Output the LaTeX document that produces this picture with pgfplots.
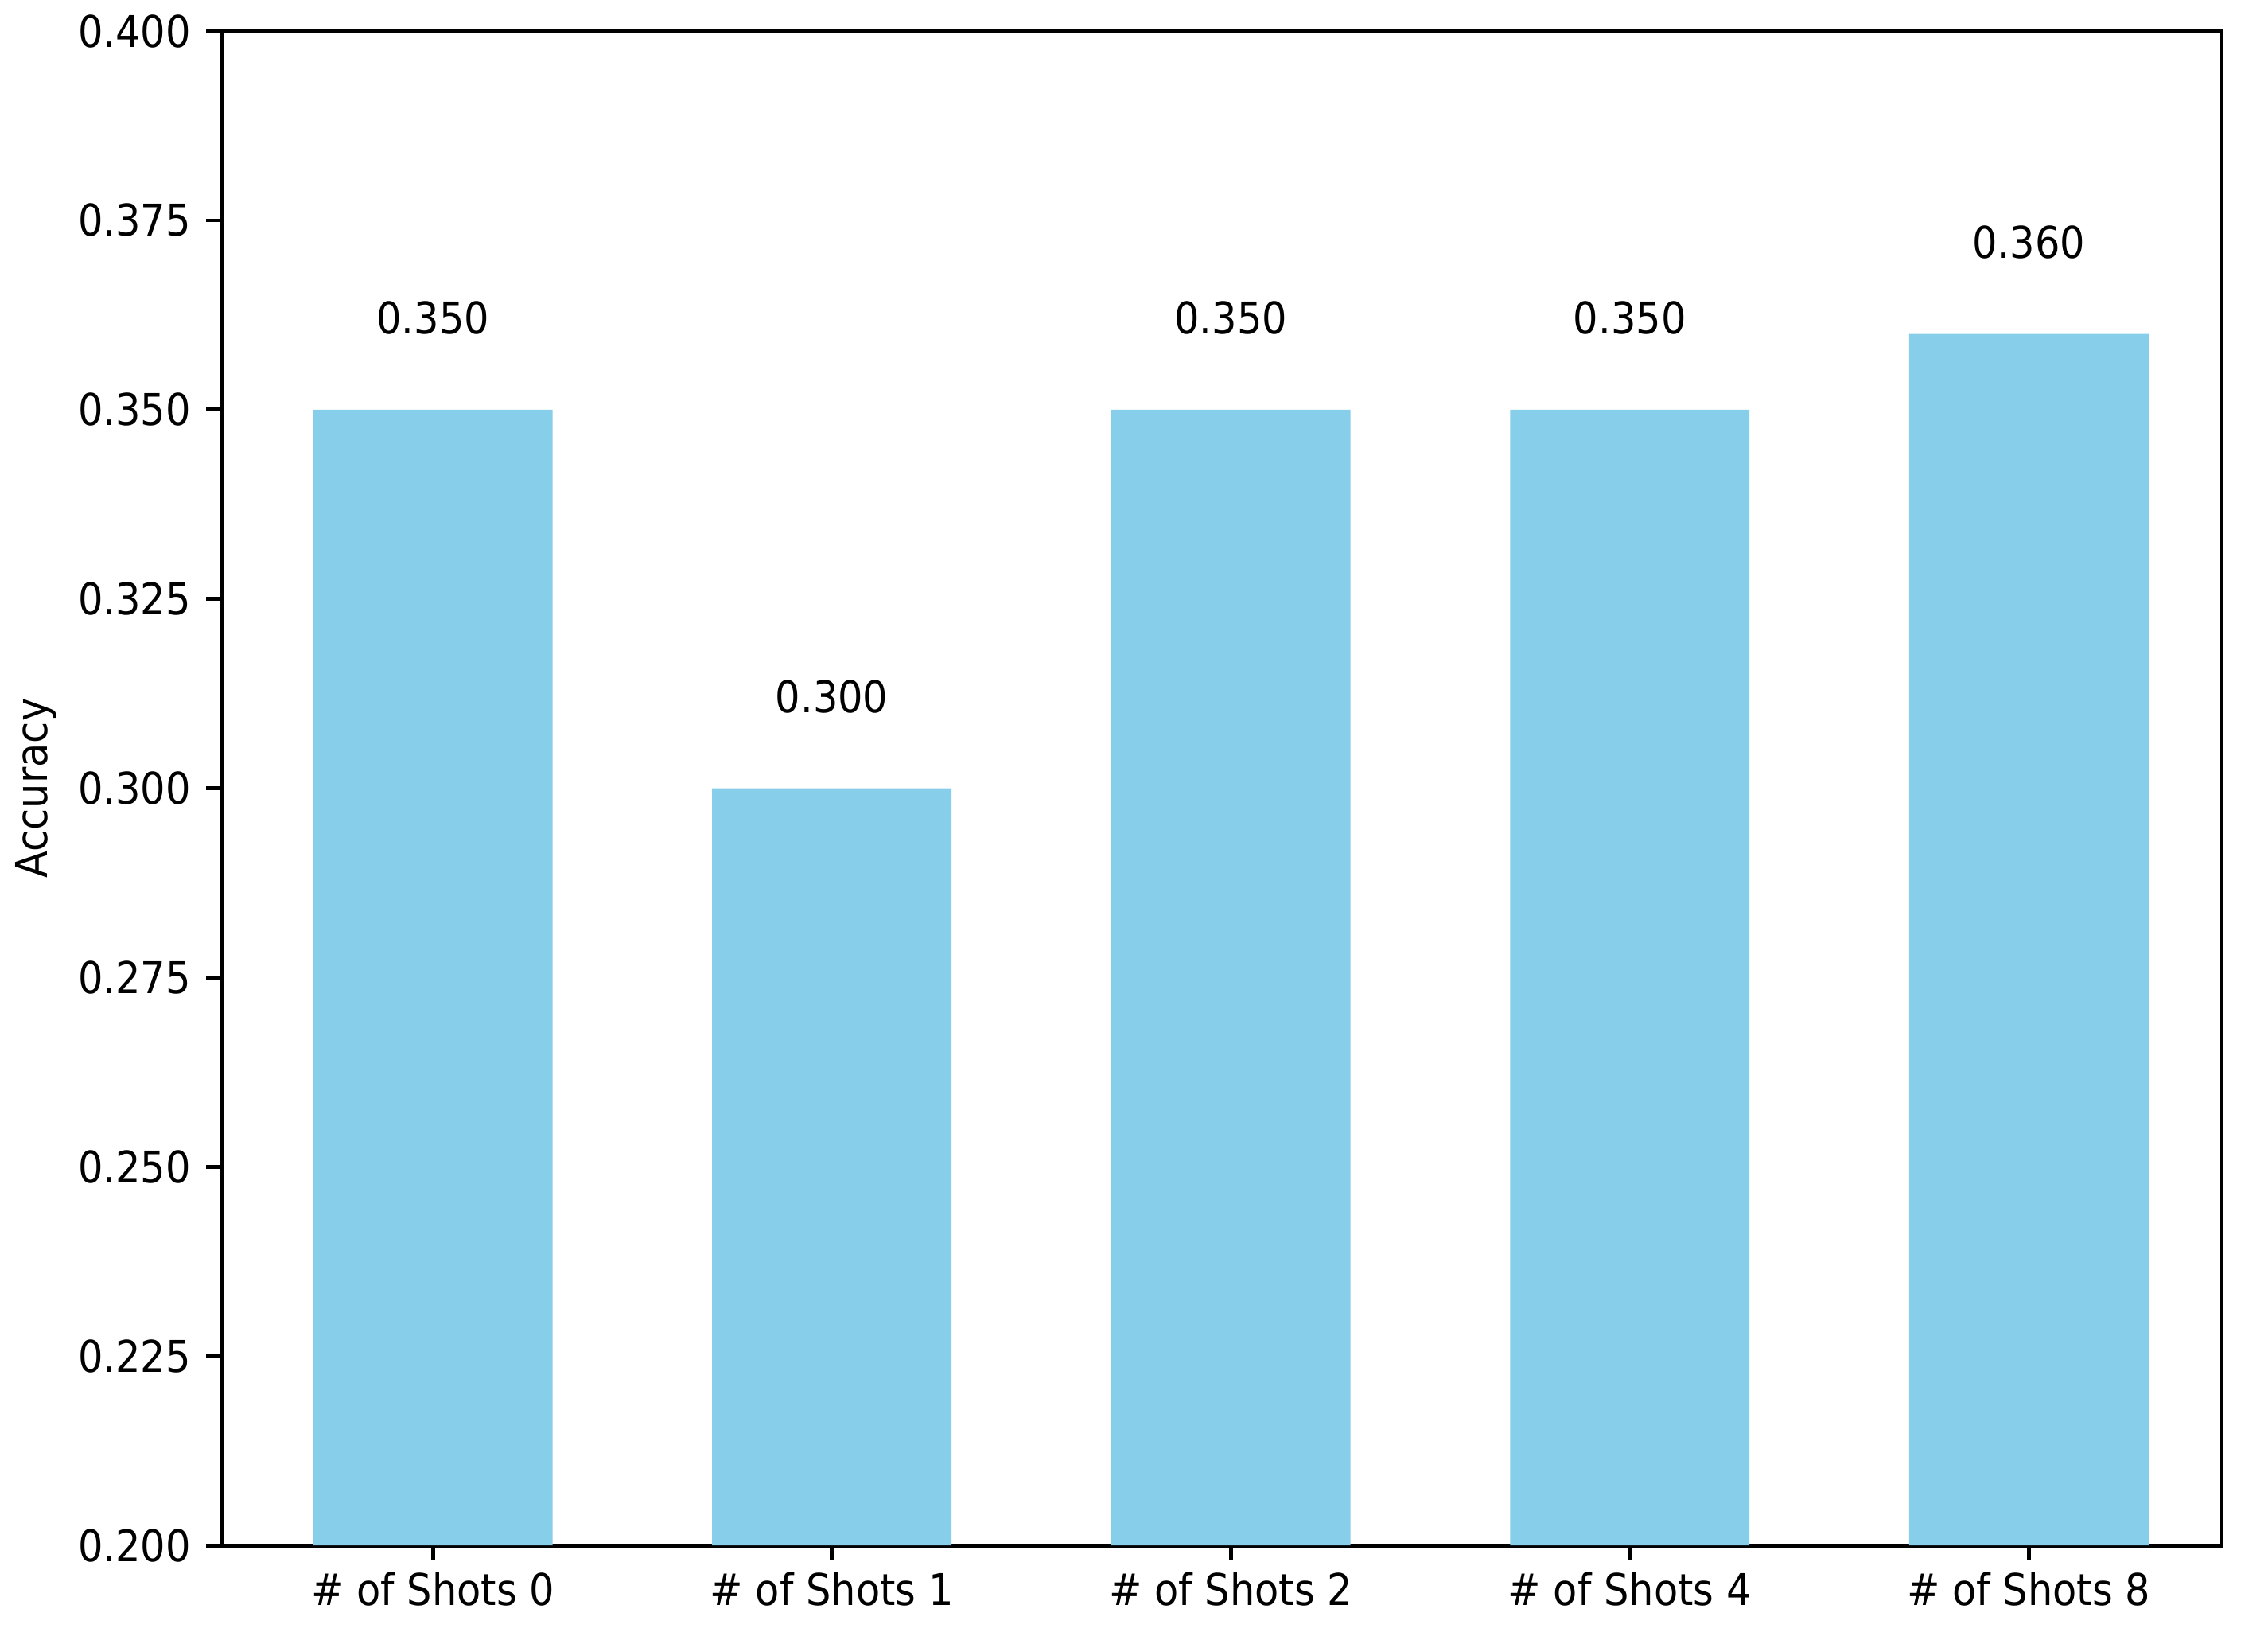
\documentclass[border=0pt]{standalone}
\usepackage{fontspec}
\setmainfont{DejaVu Sans}[FakeStretch=0.9]
\usepackage{pgfplots}
\pgfplotsset{compat=1.18}
\definecolor{skyblue}{RGB}{135,206,235}

\begin{document}
\begin{tikzpicture}
\fontsize{9.2pt}{11pt}\selectfont
\begin{axis}[
    at={(0,0)}, anchor=south west,
    scale only axis,
    width=421pt,
    height=318.6pt,
    xmin=-0.53, xmax=4.484,
    ymin=0.2, ymax=0.4,
    xtick={0,1,2,3,4},
    xticklabels={\# of Shots 0,\# of Shots 1,\# of Shots 2,\# of Shots 4,\# of Shots 8},
    ytick={0.2,0.225,0.25,0.275,0.3,0.325,0.35,0.375,0.4},
    yticklabel style={/pgf/number format/fixed, /pgf/number format/fixed zerofill, /pgf/number format/precision=3},
    /pgf/number format/assume math mode=true,
    tick align=outside,
    tick pos=left,
    major tick length=3.2pt,
    tick style={black, line width=0.8pt},
    axis line style={black, line width=0.8pt},
    tick label style={font=\fontsize{9.2pt}{11pt}\selectfont},
    xticklabel style={yshift=0.8pt},
    ylabel={Accuracy},
    every axis y label/.style={at={(axis description cs:-0.0926,0.5)}, rotate=90, anchor=center},
    label style={font=\fontsize{9.2pt}{11pt}\selectfont},
    ybar,
    bar width=0.6,
    bar shift=0pt,
    nodes near coords,
    nodes near coords style={/pgf/number format/fixed, /pgf/number format/fixed zerofill, /pgf/number format/precision=3},
    every node near coord/.append style={anchor=south, inner sep=0pt, yshift=15.6pt, font=\fontsize{9.2pt}{11pt}\selectfont, text=black},
]
\addplot[fill=skyblue, draw=none] coordinates {
    (0,0.350)
    (1,0.300)
    (2,0.350)
    (3,0.350)
    (4,0.360)
};
\end{axis}
\useasboundingbox (-46.6pt,-20.6pt) rectangle (430.7pt,325.0pt);
\end{tikzpicture}
\end{document}
